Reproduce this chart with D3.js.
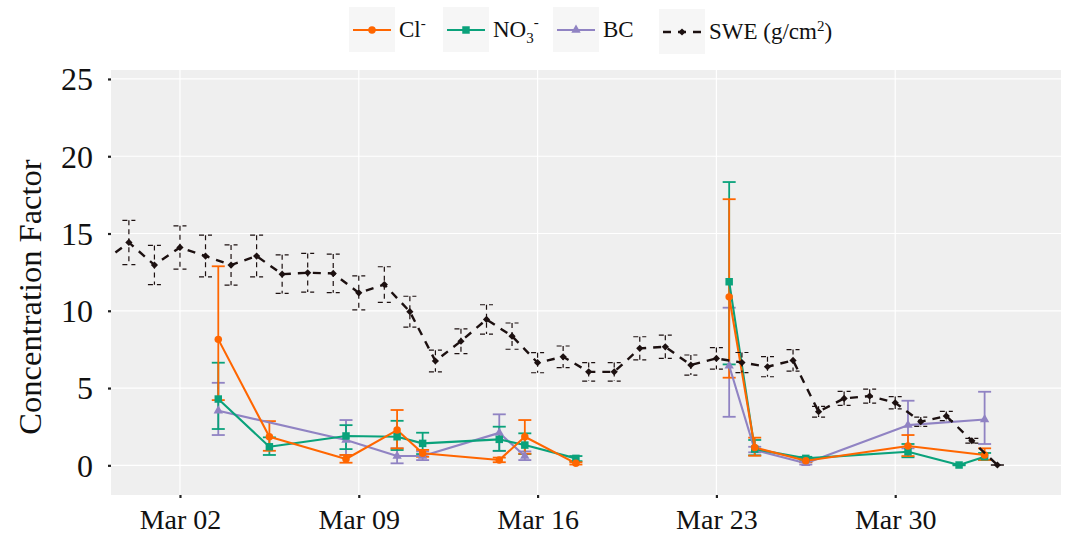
<!DOCTYPE html>
<html>
<head>
<meta charset="utf-8">
<script src="https://cdn.jsdelivr.net/npm/d3@7"></script>
<style>
  body { margin: 0; background: #fff; }
  text { font-family: "Liberation Serif", "Times New Roman", serif; fill: #111; }
</style>
</head>
<body>
<div id="chart"></div>
<script>
// ---- data ----
// snow water equivalent, daily
const sweDates = ["2019-02-27","2019-02-28","2019-03-01","2019-03-02","2019-03-03","2019-03-04","2019-03-05",
  "2019-03-06","2019-03-07","2019-03-08","2019-03-09","2019-03-10","2019-03-11","2019-03-12","2019-03-13",
  "2019-03-14","2019-03-15","2019-03-16","2019-03-17","2019-03-18","2019-03-19","2019-03-20","2019-03-21",
  "2019-03-22","2019-03-23","2019-03-24","2019-03-25","2019-03-26","2019-03-27","2019-03-28","2019-03-29",
  "2019-03-30","2019-03-31","2019-04-01","2019-04-02","2019-04-03"];
const sweValues = [13.2, 14.42, 12.96, 14.1, 13.54, 12.96, 13.54, 12.37, 12.46, 12.42, 11.16, 11.7, 9.94, 6.75,
  8.03, 9.44, 8.36, 6.64, 7.02, 6.05, 6.05, 7.57, 7.67, 6.49, 6.92, 6.65, 6.38, 6.79, 3.47, 4.33, 4.48, 4.05,
  2.82, 3.19, 1.59, 0.02];
const sweErr = [1.3, 1.43, 1.27, 1.4, 1.35, 1.3, 1.35, 1.25, 1.25, 1.25, 1.1, 1.15, 1.0, 0.7, 0.8, 0.95, 0.85,
  0.65, 0.7, 0.6, 0.6, 0.75, 0.75, 0.65, 0.7, 0.65, 0.65, 0.7, 0.35, 0.45, 0.45, 0.4, 0.3, 0.3, 0.15, 0.0];

// Cl-
const clDates = ["2019-03-03 12:00","2019-03-05 12:00","2019-03-08 12:00","2019-03-10 12:00","2019-03-11 12:00",
  "2019-03-14 12:00","2019-03-15 12:00","2019-03-17 12:00","2019-03-23 12:00","2019-03-24 12:00",
  "2019-03-26 12:00","2019-03-30 12:00","2019-04-02 12:00"];
const clValues = [8.15, 1.85, 0.41, 2.28, 0.78, 0.34, 1.85, 0.13, 10.9, 1.15, 0.3, 1.25, 0.67];
const clLow = [4.22, 0.94, 0.17, 1.1, 0.55, 0.2, 0.75, 0.05, 5.67, 0.62, 0.2, 0.6, 0.35];
const clHigh = [12.88, 2.86, 0.67, 3.58, 1.0, 0.5, 2.93, 0.2, 17.22, 1.79, 0.45, 1.96, 1.1];

// NO3-
const no3Dates = ["2019-03-03 12:00","2019-03-05 12:00","2019-03-08 12:00","2019-03-10 12:00","2019-03-11 12:00",
  "2019-03-14 12:00","2019-03-15 12:00","2019-03-17 12:00","2019-03-23 12:00","2019-03-24 12:00",
  "2019-03-26 12:00","2019-03-30 12:00","2019-04-01 12:00","2019-04-02 12:00"];
const no3Values = [4.29, 1.2, 1.9, 1.85, 1.42, 1.68, 1.31, 0.45, 11.88, 1.05, 0.45, 0.88, 0.02, 0.56];
const no3Low = [2.35, 0.67, 1.05, 0.99, 0.73, 0.94, 0.73, 0.27, 6.53, 0.65, 0.35, 0.52, 0.0, 0.35];
const no3High = [6.64, 1.81, 2.6, 2.88, 2.11, 2.5, 2.07, 0.6, 18.33, 1.64, 0.55, 1.38, 0.05, 0.8];

// BC
const bcDates = ["2019-03-03 12:00","2019-03-08 12:00","2019-03-10 12:00","2019-03-11 12:00","2019-03-14 12:00",
  "2019-03-15 12:00","2019-03-23 12:00","2019-03-24 12:00","2019-03-26 12:00","2019-03-30 12:00","2019-04-02 12:00"];
const bcValues = [3.53, 1.64, 0.6, 0.6, 2.1, 0.6, 6.44, 1.0, 0.13, 2.6, 2.97];
const bcLow = [1.96, 0.67, 0.13, 0.34, 0.93, 0.34, 3.14, 0.84, 0.05, 1.1, 1.38];
const bcHigh = [5.34, 2.93, 1.1, 0.9, 3.3, 0.9, 10.2, 1.2, 0.22, 4.18, 4.76];

const xTicks = ["2019-03-02","2019-03-09","2019-03-16","2019-03-23","2019-03-30"];
const yTicks = [0, 5, 10, 15, 20, 25];

// ---- setup ----
const width = 1070,
    height = 535,
    panel = { left: 111, right: 1061, top: 70, bottom: 495 };

const parseDay = d3.timeParse("%Y-%m-%d");
const parseTime = d3.timeParse("%Y-%m-%d %H:%M");

const svg = d3.select("#chart")
    .append("svg")
    .attr("width", width)
    .attr("height", height);

const x = d3.scaleTime()
    .domain([parseTime("2019-02-27 07:12"), parseTime("2019-04-05 11:46")])
    .range([panel.left, panel.right]);

const y = d3.scaleLinear()
    .domain([-1.92, 25.58])
    .range([panel.bottom, panel.top]);

// panel background + grid
svg.append("rect")
    .attr("x", panel.left).attr("y", panel.top)
    .attr("width", panel.right - panel.left)
    .attr("height", panel.bottom - panel.top)
    .attr("fill", "#efefef");

svg.append("defs").append("clipPath").attr("id", "clip")
    .append("rect")
    .attr("x", panel.left).attr("y", panel.top)
    .attr("width", panel.right - panel.left)
    .attr("height", panel.bottom - panel.top);

svg.append("g").selectAll("line")
    .data(yTicks).enter().append("line")
    .attr("x1", panel.left).attr("x2", panel.right)
    .attr("y1", d => y(d)).attr("y2", d => y(d))
    .attr("stroke", "#fff").attr("stroke-width", 1.2);

svg.append("g").selectAll("line")
    .data(xTicks.map(parseDay)).enter().append("line")
    .attr("x1", d => x(d)).attr("x2", d => x(d))
    .attr("y1", panel.top).attr("y2", panel.bottom)
    .attr("stroke", "#fff").attr("stroke-width", 1.2);

// axes
const xAxis = d3.axisBottom(x)
    .tickValues(xTicks.map(parseDay))
    .tickFormat(d3.timeFormat("%b %d"))
    .tickSize(3);

const yAxis = d3.axisLeft(y)
    .tickValues(yTicks)
    .tickSize(3)
    .tickPadding(15);

const gx = svg.append("g")
    .attr("transform", "translate(0," + panel.bottom + ")")
    .call(xAxis);
gx.select(".domain").remove();
gx.selectAll("line").attr("stroke", "#222").attr("stroke-width", 2.2);
gx.selectAll("text")
    .attr("y", 34).attr("dy", 0)
    .style("font-size", "28px")
    .attr("fill", "#111");

const gy = svg.append("g")
    .attr("transform", "translate(" + panel.left + ",0)")
    .call(yAxis);
gy.select(".domain").remove();
gy.selectAll("line").attr("stroke", "#222").attr("stroke-width", 2.2);
gy.selectAll("text")
    .attr("dy", "0.34em")
    .style("font-size", "32px")
    .attr("fill", "#111");

svg.append("text")
    .attr("transform", "translate(41,297) rotate(-90)")
    .attr("text-anchor", "middle")
    .style("font-size", "32.5px")
    .text("Concentration Factor");

// ---- series ----
const series = [
    { name: "bc", color: "#9083c3", shape: "triangle",
      dates: bcDates, values: bcValues, low: bcLow, high: bcHigh },
    { name: "no3", color: "#0aa27b", shape: "square",
      dates: no3Dates, values: no3Values, low: no3Low, high: no3High },
    { name: "cl", color: "#ff6600", shape: "circle",
      dates: clDates, values: clValues, low: clLow, high: clHigh }
];

series.forEach(s => {
    s.points = s.dates.map((d, i) => ({
        date: parseTime(d), value: s.values[i], low: s.low[i], high: s.high[i]
    }));
    // break the line between the two sampling periods
    s.segments = [];
    let seg = [];
    s.points.forEach((p, i) => {
        if (i > 0 && (p.date - s.points[i - 1].date) > 5 * 864e5) {
            s.segments.push(seg);
            seg = [];
        }
        seg.push(p);
    });
    s.segments.push(seg);
});

const plot = svg.append("g").attr("clip-path", "url(#clip)");
const capW = 6.5;

function symbolPath(shape) {
    if (shape === "circle") return d3.symbol(d3.symbolCircle, 44)();
    if (shape === "square") return d3.symbol(d3.symbolSquare, 56)();
    if (shape === "triangle") return d3.symbol(d3.symbolTriangle, 38)();
    // filled diamond (pch 18 style)
    return "M0,-3.6L3.6,0L0,3.6L-3.6,0Z";
}

// error bars
series.forEach(s => {
    const g = plot.append("g").attr("stroke", s.color).attr("stroke-width", 1.8);
    s.points.forEach(p => {
        const cx = x(p.date);
        g.append("line").attr("x1", cx - capW).attr("x2", cx + capW)
            .attr("y1", y(p.high)).attr("y2", y(p.high));
        g.append("line").attr("x1", cx).attr("x2", cx)
            .attr("y1", y(p.high)).attr("y2", y(p.low));
        g.append("line").attr("x1", cx - capW).attr("x2", cx + capW)
            .attr("y1", y(p.low)).attr("y2", y(p.low));
    });
});

// lines
const line = d3.line().x(d => x(d.date)).y(d => y(d.value));
series.forEach(s => {
    s.segments.forEach(seg => {
        plot.append("path")
            .datum(seg)
            .attr("d", line)
            .attr("fill", "none")
            .attr("stroke", s.color)
            .attr("stroke-width", 2.1)
            .attr("stroke-linejoin", "round");
    });
});

// points
series.forEach(s => {
    plot.append("g").selectAll("path")
        .data(s.points).enter().append("path")
        .attr("d", symbolPath(s.shape))
        .attr("transform", d => `translate(${x(d.date)},${y(d.value)})`)
        .attr("fill", s.color);
});

// SWE
const swe = sweDates.map((d, i) => ({ date: parseDay(d), value: sweValues[i], err: sweErr[i] }));
const sweColor = "#1c1010";
const sweErrG = plot.append("g")
    .attr("stroke", sweColor)
    .attr("stroke-width", 1.2)
    .attr("stroke-dasharray", "5,4");
swe.forEach(p => {
    const cx = x(p.date);
    const top = y(p.value + p.err), bot = y(p.value - p.err);
    sweErrG.append("line").attr("x1", cx - capW).attr("x2", cx + capW).attr("y1", top).attr("y2", top);
    sweErrG.append("line").attr("x1", cx).attr("x2", cx).attr("y1", top).attr("y2", bot);
    sweErrG.append("line").attr("x1", cx - capW).attr("x2", cx + capW).attr("y1", bot).attr("y2", bot);
});

plot.append("path")
    .datum(swe)
    .attr("d", line)
    .attr("fill", "none")
    .attr("stroke", sweColor)
    .attr("stroke-width", 2.4)
    .attr("stroke-dasharray", "8,7");

plot.append("g").selectAll("path")
    .data(swe).enter().append("path")
    .attr("d", symbolPath("diamond"))
    .attr("transform", d => `translate(${x(d.date)},${y(d.value)})`)
    .attr("fill", sweColor);

// ---- legend ----
const legendItems = [
    { color: "#ff6600", shape: "circle", box: 349, top: 7, dashed: false },
    { color: "#0aa27b", shape: "square", box: 443, top: 7, dashed: false },
    { color: "#9083c3", shape: "triangle", box: 553, top: 7, dashed: false },
    { color: sweColor, shape: "diamond", box: 659, top: 9, dashed: true }
];

const legend = svg.append("g").attr("id", "legend");
legendItems.forEach((d, i) => {
    const g = legend.append("g");
    const cy = d.top + 23;
    g.append("rect")
        .attr("x", d.box).attr("y", d.top)
        .attr("width", 46).attr("height", 45)
        .attr("fill", "#f6f6f6");
    g.append("line")
        .attr("x1", d.box + 4)
        .attr("x2", d.box + 42)
        .attr("y1", cy).attr("y2", cy)
        .attr("stroke", d.color)
        .attr("stroke-width", d.dashed ? 2.4 : 2.1)
        .attr("stroke-dasharray", d.dashed ? "8,7" : null);
    g.append("path")
        .attr("d", symbolPath(d.shape))
        .attr("transform", `translate(${d.box + 23},${cy})`)
        .attr("fill", d.color);
});

const lt1 = legend.append("text").attr("x", 399).attr("y", 37).style("font-size", "23px");
lt1.append("tspan").text("Cl");
lt1.append("tspan").attr("dy", -9).style("font-size", "15px").text("-");

const lt2 = legend.append("text").attr("x", 493).attr("y", 37).style("font-size", "23px");
lt2.append("tspan").text("NO");
lt2.append("tspan").attr("dy", 6).style("font-size", "15px").text("3");
lt2.append("tspan").attr("dy", -16).style("font-size", "15px").text("-");

legend.append("text").attr("x", 603).attr("y", 37).style("font-size", "23px").text("BC");

const lt4 = legend.append("text").attr("x", 709).attr("y", 39).style("font-size", "23px");
lt4.append("tspan").text("SWE (g/cm");
lt4.append("tspan").attr("dy", -8).style("font-size", "15px").text("2");
lt4.append("tspan").attr("dy", 8).text(")");
</script>
</body>
</html>
